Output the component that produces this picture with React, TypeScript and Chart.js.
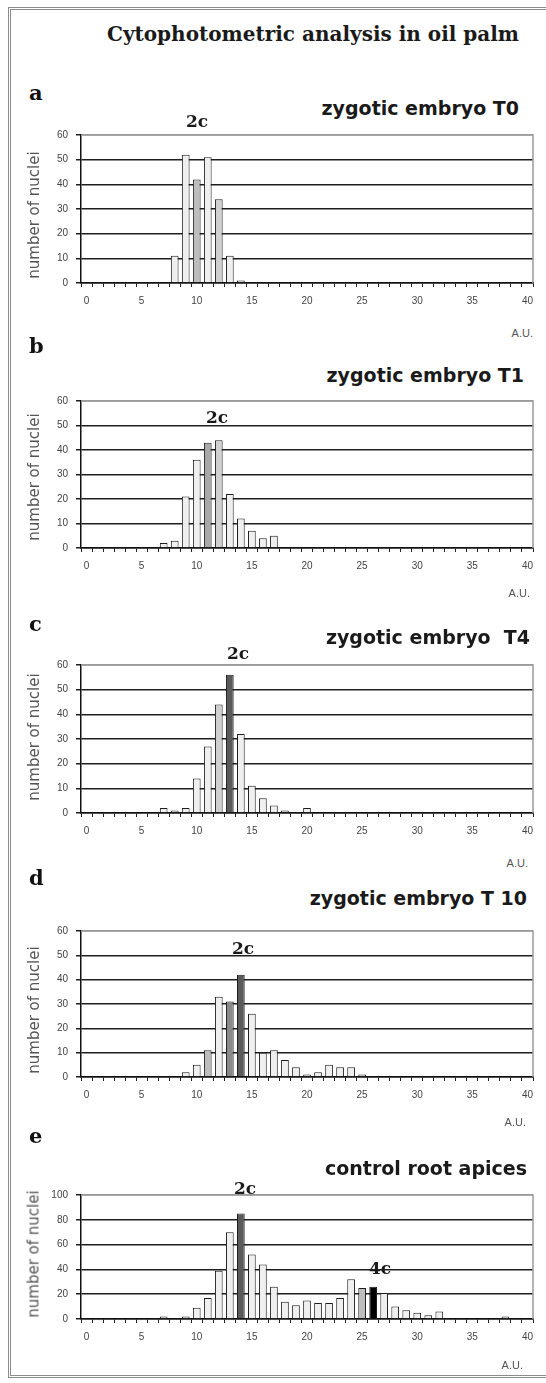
import React, { useEffect, useRef } from "react";
import { Chart, registerables } from "chart.js";

Chart.register(...registerables);

// ---------- data ----------
const categories = [
  "0", "1", "2", "3", "4", "5", "6", "7", "8", "9",
  "10", "11", "12", "13", "14", "15", "16", "17", "18", "19",
  "20", "21", "22", "23", "24", "25", "26", "27", "28", "29",
  "30", "31", "32", "33", "34", "35", "36", "37", "38", "39", "40",
];
const xTickLabels = ["0", "5", "10", "15", "20", "25", "30", "35", "40"];

// a) zygotic embryo T0
const seriesA = [
  0, 0, 0, 0, 0, 0, 0, 0, 11, 52,
  42, 51, 34, 11, 1, 0, 0, 0, 0, 0,
  0, 0, 0, 0, 0, 0, 0, 0, 0, 0,
  0, 0, 0, 0, 0, 0, 0, 0, 0, 0, 0,
];
// b) zygotic embryo T1
const seriesB = [
  0, 0, 0, 0, 0, 0, 0, 2, 3, 21,
  36, 43, 44, 22, 12, 7, 4, 5, 0, 0,
  0, 0, 0, 0, 0, 0, 0, 0, 0, 0,
  0, 0, 0, 0, 0, 0, 0, 0, 0, 0, 0,
];
// c) zygotic embryo T4
const seriesC = [
  0, 0, 0, 0, 0, 0, 0, 2, 1, 2,
  14, 27, 44, 56, 32, 11, 6, 3, 1, 0,
  2, 0, 0, 0, 0, 0, 0, 0, 0, 0,
  0, 0, 0, 0, 0, 0, 0, 0, 0, 0, 0,
];
// d) zygotic embryo T10
const seriesD = [
  0, 0, 0, 0, 0, 0, 0, 0, 0, 2,
  5, 11, 33, 31, 42, 26, 10, 11, 7, 4,
  1, 2, 5, 4, 4, 1, 0, 0, 0, 0,
  0, 0, 0, 0, 0, 0, 0, 0, 0, 0, 0,
];
// e) control root apices
const seriesE = [
  0, 0, 0, 0, 0, 0, 0, 2, 0, 2,
  9, 17, 39, 70, 85, 52, 44, 26, 14, 11,
  15, 13, 13, 17, 32, 25, 26, 21, 10, 7,
  5, 3, 6, 0, 0, 0, 0, 0, 2, 0, 0,
];

const yTicksSmall = { max: 60, step: 10 };
const yTicksLarge = { max: 100, step: 20 };

// ---------- layout / style ----------
const PAD_TOP = 12;
const X_AXIS_H = 40;
const PLOT_LEFT = 81;
const PLOT_RIGHT = 533;
const W = 546;

type PanelCfg = {
  letter: string;
  subtitle: string;
  values: number[];
  yMax: number;
  yStep: number;
  top: number;
  plotH: number;
  letterY: number;
  subY: number;
  subRight: number;
  yTitleY: number;
  auY: number;
  auRight: number;
  marks: { text: string; x: number; y: number }[];
  fills: Record<number, string>;
};

const panels: PanelCfg[] = [
  {
    letter: "a", subtitle: "zygotic embryo T0", values: seriesA,
    yMax: yTicksSmall.max, yStep: yTicksSmall.step,
    top: 133, plotH: 150, letterY: 92, subY: 108, subRight: 519, yTitleY: 215,
    auY: 333, auRight: 533,
    marks: [{ text: "2c", x: 197, y: 121 }],
    fills: { 10: "#bdbdbd", 12: "#d0d0d0" },
  },
  {
    letter: "b", subtitle: "zygotic embryo T1", values: seriesB,
    yMax: yTicksSmall.max, yStep: yTicksSmall.step,
    top: 399, plotH: 149, letterY: 345, subY: 375, subRight: 524, yTitleY: 477,
    auY: 593, auRight: 530,
    marks: [{ text: "2c", x: 217, y: 417 }],
    fills: { 11: "#a8a8a8", 12: "#d0d0d0" },
  },
  {
    letter: "c", subtitle: "zygotic embryo  T4", values: seriesC,
    yMax: yTicksSmall.max, yStep: yTicksSmall.step,
    top: 663, plotH: 150, letterY: 623, subY: 637, subRight: 530, yTitleY: 737,
    auY: 863, auRight: 528,
    marks: [{ text: "2c", x: 238, y: 653 }],
    fills: { 13: "#5a5a5a", 12: "#d0d0d0" },
  },
  {
    letter: "d", subtitle: "zygotic embryo T 10", values: seriesD,
    yMax: yTicksSmall.max, yStep: yTicksSmall.step,
    top: 929, plotH: 148, letterY: 877, subY: 898, subRight: 527, yTitleY: 1010,
    auY: 1122, auRight: 526,
    marks: [{ text: "2c", x: 243, y: 948 }],
    fills: { 14: "#5a5a5a", 13: "#8a8a8a", 11: "#bdbdbd" },
  },
  {
    letter: "e", subtitle: "control root apices", values: seriesE,
    yMax: yTicksLarge.max, yStep: yTicksLarge.step,
    top: 1193, plotH: 126, letterY: 1135, subY: 1168, subRight: 527, yTitleY: 1254,
    auY: 1365, auRight: 523,
    marks: [
      { text: "2c", x: 245, y: 1188 },
      { text: "4c", x: 380, y: 1268 },
    ],
    fills: { 14: "#5a5a5a", 26: "#000000", 25: "#bdbdbd" },
  },
];

const framePlugin = {
  id: "frameRight",
  afterDatasetsDraw(chart: any) {
    const { ctx, chartArea } = chart;
    ctx.save();
    ctx.strokeStyle = "#9a9a9a";
    ctx.lineWidth = 1.5;
    ctx.beginPath();
    ctx.moveTo(chartArea.left, chartArea.top);
    ctx.lineTo(chartArea.right, chartArea.top);
    ctx.lineTo(chartArea.right, chartArea.bottom);
    ctx.stroke();
    ctx.restore();
  },
};

function Panel({ cfg }: { cfg: PanelCfg }) {
  const ref = useRef<HTMLCanvasElement>(null);
  const h = PAD_TOP + cfg.plotH + X_AXIS_H;
  useEffect(() => {
    const chart = new Chart(ref.current!, {
      type: "bar",
      data: {
        labels: categories,
        datasets: [
          {
            data: cfg.values,
            backgroundColor: cfg.values.map((_, i) => cfg.fills[i] ?? "#efefef"),
            borderColor: "#1e1e1e",
            borderWidth: 1,
            barPercentage: 0.7,
            categoryPercentage: 1,
          },
        ],
      },
      options: {
        animation: false,
        responsive: false,
        maintainAspectRatio: false,
        layout: { padding: { top: PAD_TOP, right: W - PLOT_RIGHT, left: 0, bottom: 0 } },
        plugins: { legend: { display: false }, tooltip: { enabled: false }, title: { display: false } },
        scales: {
          x: {
            grid: { drawOnChartArea: false, drawTicks: true, tickLength: 4, color: "#222", lineWidth: 1 },
            border: { color: "#111", width: 1.5 },
            ticks: {
              autoSkip: false,
              maxRotation: 0,
              minRotation: 0,
              padding: 8,
              color: "#444",
              font: { family: "Liberation Sans", size: 10 },
              callback: (_v: any, i: number) =>
                xTickLabels.includes(categories[i]) ? categories[i] : "",
            },
            afterFit: (s: any) => {
              s.height = X_AXIS_H;
            },
          },
          y: {
            min: 0,
            max: cfg.yMax,
            ticks: {
              stepSize: cfg.yStep,
              padding: 8,
              color: "#444",
              font: { family: "Liberation Sans", size: 10 },
            },
            grid: {
              color: (ctx: any) => (ctx.tick && ctx.tick.value === cfg.yMax ? "#9a9a9a" : "#1e1e1e"),
              tickColor: "#1e1e1e",
              lineWidth: 1.5,
              tickLength: 5,
            },
            border: { color: "#111", width: 1.5 },
            afterFit: (s: any) => {
              s.width = PLOT_LEFT;
            },
          },
        },
      },
      plugins: [framePlugin],
    });
    return () => chart.destroy();
  }, []);
  return (
    <canvas
      ref={ref}
      width={W}
      height={h}
      style={{ position: "absolute", left: 0, top: cfg.top - PAD_TOP, width: W, height: h }}
    />
  );
}

const centered = (y: number): React.CSSProperties => ({
  position: "absolute",
  top: y,
  transform: "translateY(-50%)",
  lineHeight: 1,
  whiteSpace: "nowrap",
});

export default function App() {
  return (
    <div
      style={{
        position: "absolute",
        left: 0,
        top: 0,
        width: W,
        height: 1383,
        overflow: "hidden",
        background: "#fff",
      }}
    >
      <div
        style={{
          position: "absolute",
          left: 8,
          top: 7,
          width: 560,
          height: 1371,
          border: "3px double #8c8c8c",
          boxSizing: "border-box",
        }}
      />
      <div
        style={{
          ...centered(34),
          left: 107,
          fontFamily: "DejaVu Serif",
          fontWeight: "bold",
          fontSize: 20,
          color: "#1a1a1a",
        }}
      >
        Cytophotometric analysis in oil palm
      </div>
      {panels.map((p) => (
        <React.Fragment key={p.letter}>
          <Panel cfg={p} />
          <div
            style={{
              ...centered(p.letterY),
              left: 29,
              fontFamily: "DejaVu Serif",
              fontWeight: "bold",
              fontSize: 21,
              color: "#111",
            }}
          >
            {p.letter}
          </div>
          <div
            style={{
              ...centered(p.subY),
              right: W - p.subRight,
              fontFamily: "DejaVu Sans",
              fontWeight: "bold",
              fontSize: 19,
              color: "#1a1a1a",
              whiteSpace: "pre",
            }}
          >
            {p.subtitle}
          </div>
          <div
            style={{
              position: "absolute",
              left: 34,
              top: p.yTitleY,
              transform: "translate(-50%, -50%) rotate(-90deg)",
              fontFamily: "DejaVu Sans",
              fontSize: 15,
              color: "#555",
              whiteSpace: "nowrap",
              lineHeight: 1,
            }}
          >
            number of nuclei
          </div>
          <div
            style={{
              ...centered(p.auY),
              right: W - p.auRight,
              fontFamily: "Liberation Sans",
              fontSize: 11,
              color: "#555",
            }}
          >
            A.U.
          </div>
          {p.marks.map((m) => (
            <div
              key={m.text}
              style={{
                position: "absolute",
                left: m.x,
                top: m.y,
                transform: "translate(-50%, -50%)",
                fontFamily: "DejaVu Serif",
                fontWeight: "bold",
                fontSize: 17,
                color: "#1a1a1a",
                lineHeight: 1,
              }}
            >
              {m.text}
            </div>
          ))}
        </React.Fragment>
      ))}
    </div>
  );
}
